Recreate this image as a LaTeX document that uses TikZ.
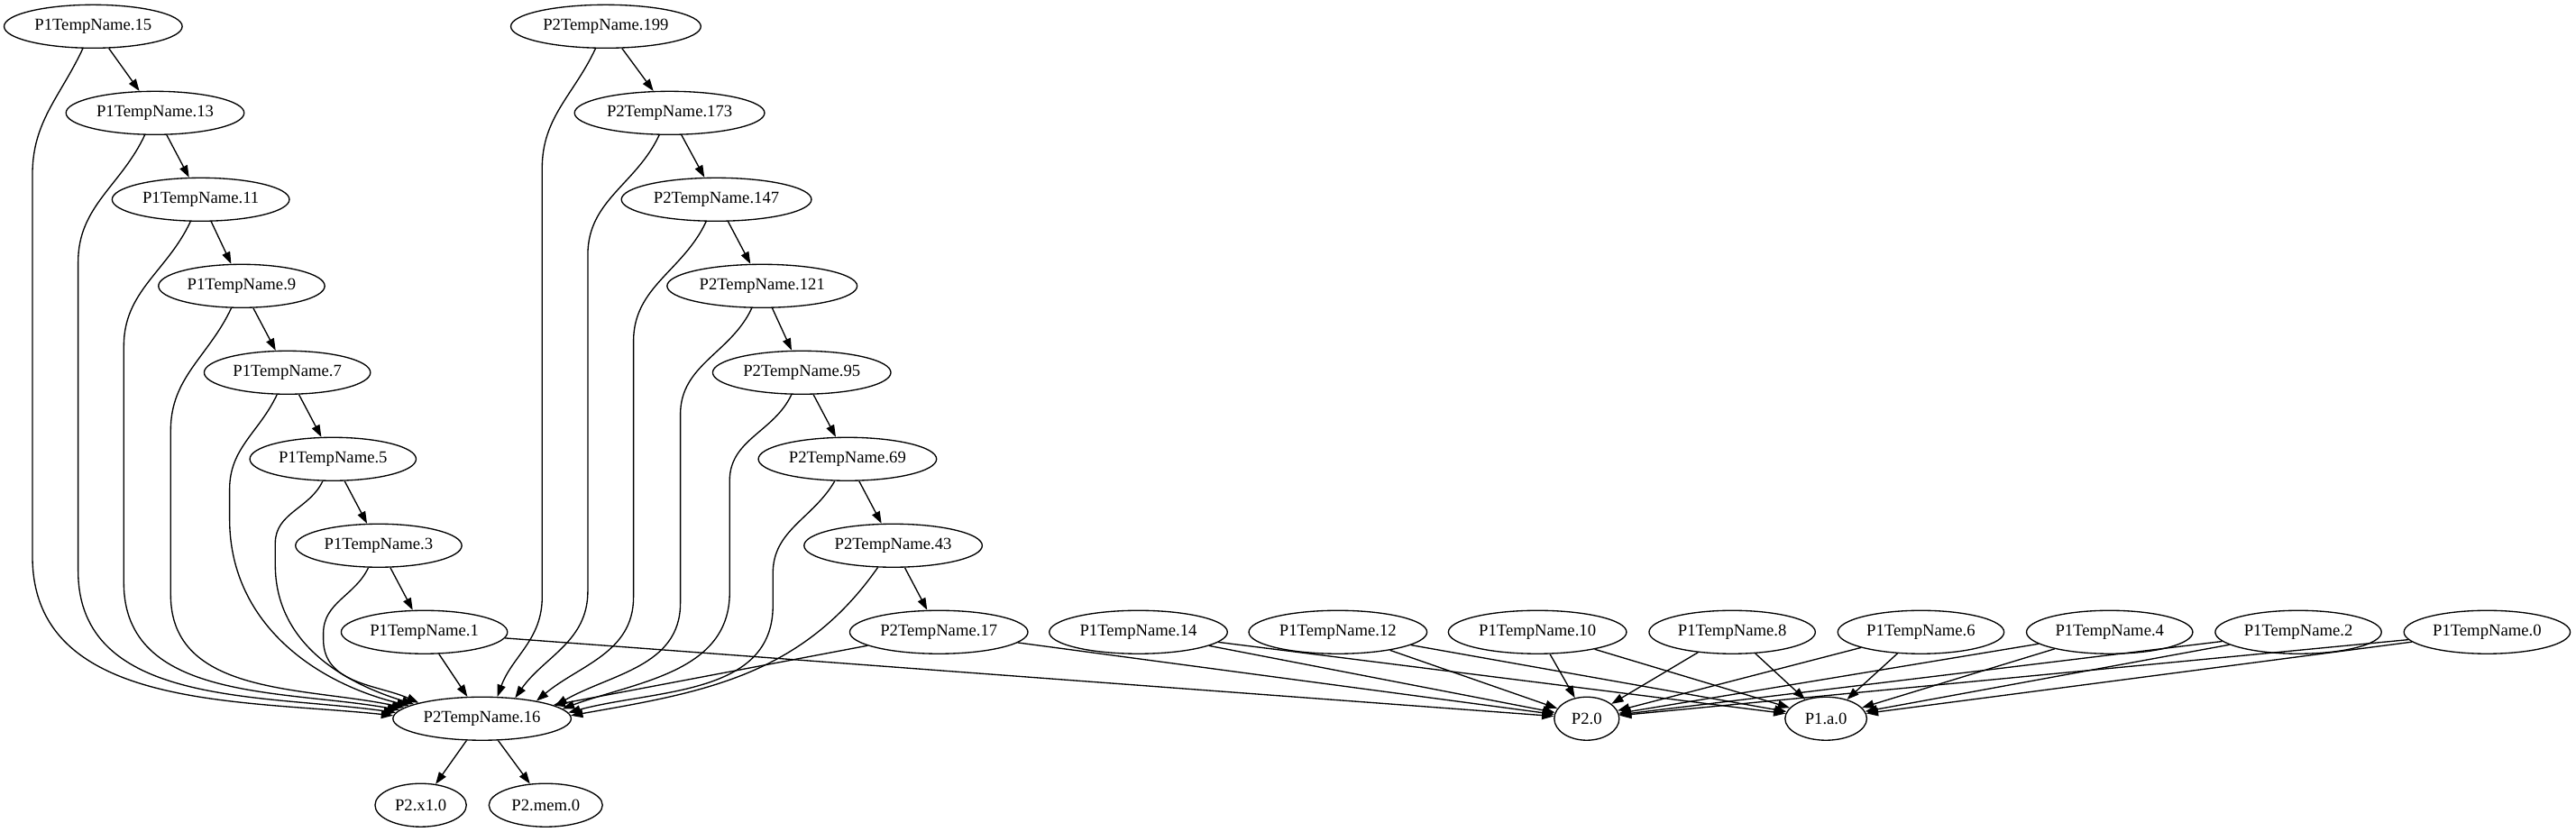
\documentclass[tikz,border=0pt]{standalone}
\usepackage{fontspec}
\setmainfont{Liberation Serif}
\usetikzlibrary{arrows.meta,positioning,shapes.geometric}

\begin{document}
\begin{tikzpicture}
		[x=1pt,y=1pt,
		main node/.style={draw,ellipse,line width=1pt,inner xsep=3.7pt,inner ysep=0pt,minimum height=36pt,font=\fontsize{14pt}{17pt}\selectfont},
		dep/.style={line width=1pt,-{Triangle[length=10pt,width=7pt]}}]
		\useasboundingbox (0,0) rectangle (2143,692);
		
		% P1 chain
		\node[main node] (p15) at (77.5,670) {P1TempName.15};
		\node[main node] (p13) at (129,598) {P1TempName.13};
		\node[main node] (p11) at (167,526) {P1TempName.11};
		\node[main node] (p9) at (201,454) {P1TempName.9};
		\node[main node] (p7) at (239,382) {P1TempName.7};
		\node[main node] (p5) at (277,310) {P1TempName.5};
		\node[main node] (p3) at (315,238) {P1TempName.3};
		\node[main node] (p1) at (353,166) {P1TempName.1};
		
		% P2 chain
		\node[main node] (q199) at (504,670) {P2TempName.199};
		\node[main node] (q173) at (557,598) {P2TempName.173};
		\node[main node] (q147) at (596,526) {P2TempName.147};
		\node[main node] (q121) at (634,454) {P2TempName.121};
		\node[main node] (q95) at (667,382) {P2TempName.95};
		\node[main node] (q69) at (705,310) {P2TempName.69};
		\node[main node] (q43) at (743,238) {P2TempName.43};
		\node[main node] (q17) at (781,166) {P2TempName.17};
		\node[main node] (q16) at (401,94) {P2TempName.16};
		
		% row of even temps
		\node[main node] (p14) at (947,166) {P1TempName.14};
		\node[main node] (p12) at (1113,166) {P1TempName.12};
		\node[main node] (p10) at (1279,166) {P1TempName.10};
		\node[main node] (p8) at (1441,166) {P1TempName.8};
		\node[main node] (p6) at (1598,166) {P1TempName.6};
		\node[main node] (p4) at (1755,166) {P1TempName.4};
		\node[main node] (p2) at (1912,166) {P1TempName.2};
		\node[main node] (p0) at (2069,166) {P1TempName.0};
		
		% sinks
		\node[main node,minimum width=54pt] (r2) at (1320,94) {P2.0};
		\node[main node,minimum width=68pt] (a1) at (1519,94) {P1.a.0};
		\node[main node,minimum width=76pt] (x1) at (350,22) {P2.x1.0};
		\node[main node,minimum width=94.5pt] (mem) at (454,22) {P2.mem.0};
		
		\draw[dep] (p15) to (p13);
		\draw[dep] (p13) to (p11);
		\draw[dep] (p11) to (p9);
		\draw[dep] (p9) to (p7);
		\draw[dep] (p7) to (p5);
		\draw[dep] (p5) to (p3);
		\draw[dep] (p3) to (p1);
		
		\draw[dep] (q199) to (q173);
		\draw[dep] (q173) to (q147);
		\draw[dep] (q147) to (q121);
		\draw[dep] (q121) to (q95);
		\draw[dep] (q95) to (q69);
		\draw[dep] (q69) to (q43);
		\draw[dep] (q43) to (q17);
		
		% into P2TempName.16 from the left
		\draw[dep] (p15) to[out=-115,in=90] (27,547) -- (27,229) to[out=-90,in=174] (q16.178);
		\draw[dep] (p13) to[out=-115,in=90] (65,474) -- (65,217) to[out=-90,in=172] (q16.176);
		\draw[dep] (p11) to[out=-115,in=90] (103,404) -- (103,207) to[out=-90,in=170] (q16.174);
		\draw[dep] (p9) to[out=-115,in=90] (142,334) -- (142,197) to[out=-90,in=168] (q16.172);
		\draw[dep] (p7) to[out=-115,in=90] (191,285) -- (191,260) to[out=-90,in=166] (q16.170);
		\draw[dep] (p5) to[out=-115,in=90] (229,240) -- (229,222) to[out=-90,in=163] (q16.168);
		\draw[dep] (p3) to[out=-115,in=90] (269,165) -- (269,160) to[out=-90,in=156] (q16.166);
		\draw[dep] (p1) to (q16);
		
		% into P2TempName.16 from the right
		\draw[dep] (q199) to[out=-115,in=90] (451,552) -- (451,195) to[out=-90,in=70] (q16.55);
		\draw[dep] (q173) to[out=-115,in=90] (489,480) -- (489,200) to[out=-90,in=55] (q16.32);
		\draw[dep] (q147) to[out=-115,in=90] (527,408) -- (527,195) to[out=-90,in=40] (q16.18);
		\draw[dep] (q121) to[out=-115,in=90] (566,347) -- (566,190) to[out=-90,in=30] (q16.10);
		\draw[dep] (q95) to[out=-115,in=90] (607,292) -- (607,199) to[out=-90,in=20] (q16.7);
		\draw[dep] (q69) to[out=-120,in=90] (643,215) -- (643,188) to[out=-90,in=15] (q16.4);
		\draw[dep] (q43) to[out=-125,in=10] (q16.2);
		\draw[dep] (q17) to (q16);
		
		\draw[dep] (q16) to (x1);
		\draw[dep] (q16) to (mem);
		
		% into P2.0 and P1.a.0
		\draw[dep] (p1) to (r2);
		\draw[dep] (q17) to (r2);
		\draw[dep] (p14) to (r2);
		\draw[dep] (p14) to (a1);
		\draw[dep] (p12) to (r2);
		\draw[dep] (p12) to (a1);
		\draw[dep] (p10) to (r2);
		\draw[dep] (p10) to (a1);
		\draw[dep] (p8) to (r2);
		\draw[dep] (p8) to (a1);
		\draw[dep] (p6) to (r2);
		\draw[dep] (p6) to (a1);
		\draw[dep] (p4) to (r2);
		\draw[dep] (p4) to (a1);
		\draw[dep] (p2) to (r2);
		\draw[dep] (p2) to (a1);
		\draw[dep] (p0) to (r2);
		\draw[dep] (p0) to (a1);
\end{tikzpicture}
\end{document}
